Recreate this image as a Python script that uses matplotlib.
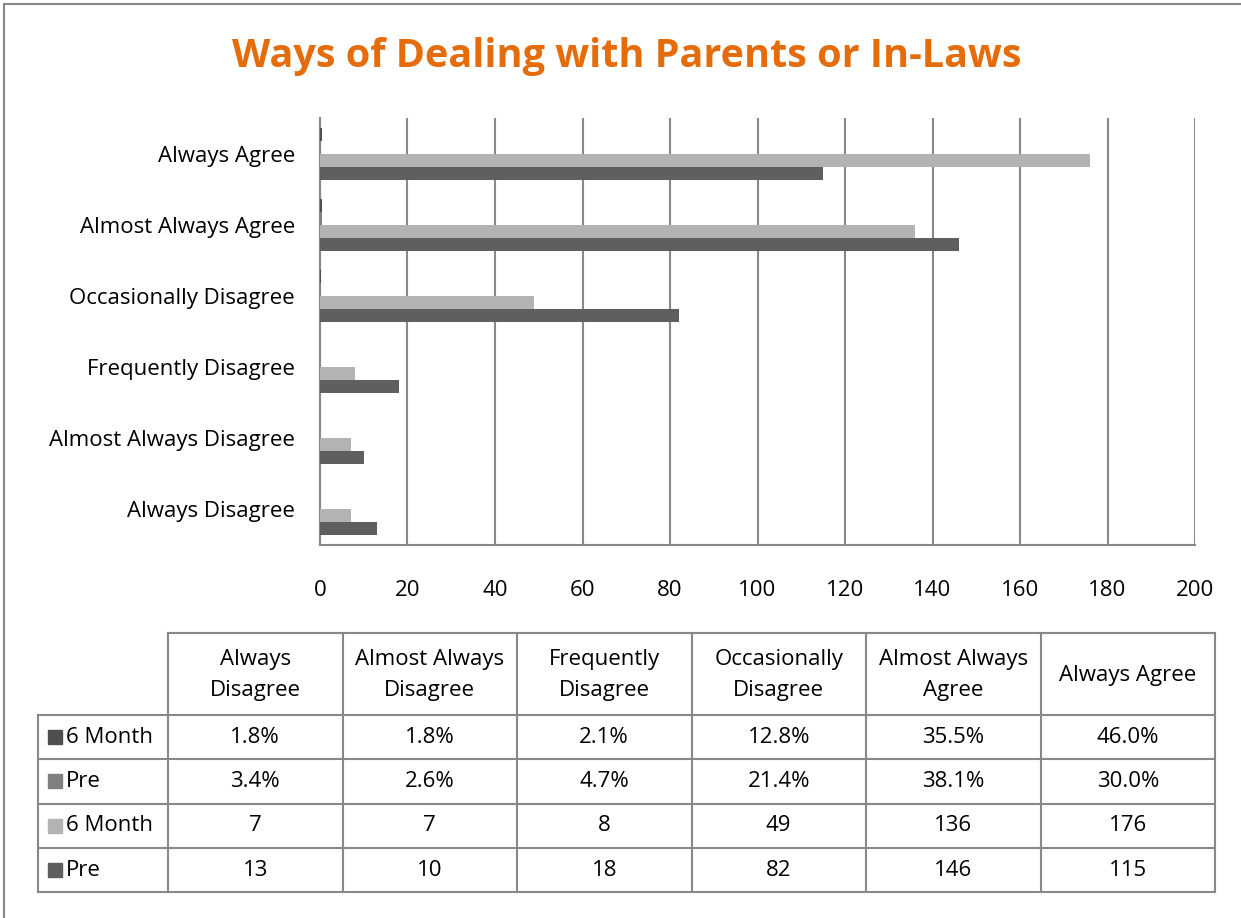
import matplotlib.pyplot as plt
import numpy as np
from matplotlib.lines import Line2D
from matplotlib.patches import Rectangle

plt.rcParams['font.family'] = ['Open Sans', 'DejaVu Sans']

# data
categories = ['Always Disagree', 'Almost Always Disagree', 'Frequently Disagree',
              'Occasionally Disagree', 'Almost Always Agree', 'Always Agree']
pct_6m = [1.8, 1.8, 2.1, 12.8, 35.5, 46.0]
pct_pre = [3.4, 2.6, 4.7, 21.4, 38.1, 30.0]
cnt_6m = [7, 7, 8, 49, 136, 176]
cnt_pre = [13, 10, 18, 82, 146, 115]
x_ticks = [0, 20, 40, 60, 80, 100, 120, 140, 160, 180, 200]
col_headers = ['Always\nDisagree', 'Almost Always\nDisagree', 'Frequently\nDisagree',
               'Occasionally\nDisagree', 'Almost Always\nAgree', 'Always Agree']

# series in order top -> bottom within each group
series = [
    {'name': '6 Month', 'vals': [v / 100 for v in pct_6m], 'txt': [f'{v:.1f}%' for v in pct_6m], 'color': '#4f4f4f'},
    {'name': 'Pre', 'vals': [v / 100 for v in pct_pre], 'txt': [f'{v:.1f}%' for v in pct_pre], 'color': '#808080'},
    {'name': '6 Month', 'vals': cnt_6m, 'txt': [str(v) for v in cnt_6m], 'color': '#b3b3b3'},
    {'name': 'Pre', 'vals': cnt_pre, 'txt': [str(v) for v in cnt_pre], 'color': '#5f5f5f'},
]

W, H = 1241, 918
fig = plt.figure(figsize=(W / 100, H / 100), dpi=100)

grid_c = '#888888'
orange = '#E46C0A'
fs = 16

# chart axes
ax = fig.add_axes([320 / W, 1 - 545 / H, 875 / W, 427 / H])
y = np.arange(len(categories))
h = 0.183
offsets = [1.5 * h, 0.5 * h, -0.5 * h, -1.5 * h]
for s, off in zip(series, offsets):
    ax.barh(y + off, s['vals'], height=h, color=s['color'], zorder=3)

ax.set_xlim(0, 200)
ax.set_ylim(-0.5, len(categories) - 0.5)
ax.set_xticks(x_ticks)
ax.set_yticks(y)
ax.set_yticklabels(categories)
ax.tick_params(axis='both', length=0, labelsize=fs, colors='black')
ax.tick_params(axis='x', pad=25)
ax.tick_params(axis='y', pad=18)
ax.grid(axis='x', color=grid_c, linewidth=1.5, zorder=0)
ax.set_axisbelow(True)
for side in ['top', 'right']:
    ax.spines[side].set_visible(False)
for side in ['left', 'bottom']:
    ax.spines[side].set_color(grid_c)
    ax.spines[side].set_linewidth(1.5)

fig.text(627 / W, 1 - 57 / H, 'Ways of Dealing with Parents or In-Laws',
         ha='center', va='center', fontsize=28.5, fontweight='bold', color=orange)

# data table drawn in pixel coordinates
tax = fig.add_axes([0, 0, 1, 1])
tax.set_xlim(0, W)
tax.set_ylim(H, 0)
tax.axis('off')

label_x0 = 38
col_x0 = 168
col_w = (1215 - 168) / 6
head_top, head_bot = 633, 715
row_h = 44.3
n_rows = len(series)
tbl_bot = head_bot + n_rows * row_h
lw = 1.5

# header block
tax.add_line(Line2D([col_x0, 1215], [head_top, head_top], color=grid_c, lw=lw))
for i in range(7):
    xx = col_x0 + i * col_w
    tax.add_line(Line2D([xx, xx], [head_top, tbl_bot], color=grid_c, lw=lw))
for r in range(n_rows + 1):
    yy = head_bot + r * row_h
    tax.add_line(Line2D([label_x0, 1215], [yy, yy], color=grid_c, lw=lw))
tax.add_line(Line2D([label_x0, label_x0], [head_bot, tbl_bot], color=grid_c, lw=lw))

for i, hdr in enumerate(col_headers):
    tax.text(col_x0 + (i + 0.5) * col_w, (head_top + head_bot) / 2 + 1, hdr,
             ha='center', va='center', fontsize=fs, linespacing=1.6)

for r, s in enumerate(series):
    yc = head_bot + (r + 0.5) * row_h
    tax.add_patch(Rectangle((48, yc - 7), 14, 14, color=s['color']))
    tax.text(66, yc, s['name'], ha='left', va='center', fontsize=fs)
    for i, t in enumerate(s['txt']):
        tax.text(col_x0 + (i + 0.5) * col_w, yc, t, ha='center', va='center', fontsize=fs)

# outer chart border (top and left visible)
tax.add_line(Line2D([4, W], [4, 4], color=grid_c, lw=1.5))
tax.add_line(Line2D([4, 4], [4, H], color=grid_c, lw=1.5))

fig.savefig('out.png', dpi=100)
